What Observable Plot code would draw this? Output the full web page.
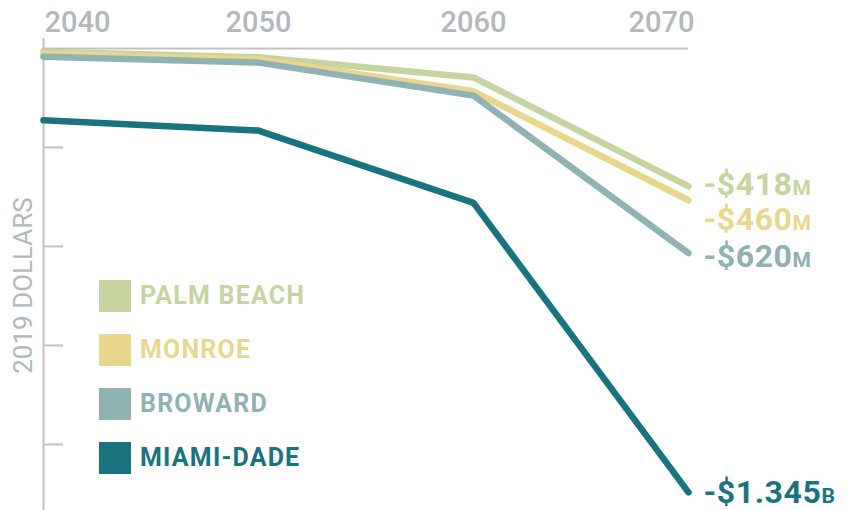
<!DOCTYPE html>
<html><head><meta charset="utf-8">
<script src="https://cdn.jsdelivr.net/npm/d3@7"></script>
<script src="https://cdn.jsdelivr.net/npm/@observablehq/plot@0.6"></script>
<style>
body{margin:0;background:#fff;font-family:Roboto, "Noto Sans", sans-serif;}
#wrap{position:relative;width:852px;height:510px;overflow:hidden;}
#wrap svg{display:block;}
.legend{position:absolute;left:99px;top:280px;}
.legend .row{display:flex;align-items:center;height:32px;margin-bottom:22px;}
.legend .sw{width:32px;height:32px;margin-right:9px;flex:none;}
.legend .lab{font-weight:700;font-size:25px;letter-spacing:1.2px;white-space:nowrap;line-height:32px;}
</style></head>
<body><div id="wrap"></div>
<script>
// ---- data (millions of 2019 dollars) ----
const years = [2040, 2050, 2060, 2070];
const counties = ["PALM BEACH", "MONROE", "BROWARD", "MIAMI-DADE"];
const palmBeach = [-10, -27, -88, -418];
const monroe = [-16, -33, -130, -460];
const broward = [-25, -43, -143, -620];
const miamiDade = [-218, -249, -468, -1345];
const yTicks = [-300, -600, -900, -1200];
const yLabel = "2019 DOLLARS";

// ---- style ----
const colors = ["#c6d4a0", "#e8d68c", "#8fb2b2", "#1a7480"];
const grey = "#c2c2c2";
const textGrey = "#b3b8bd";
const labelDy = [-2, 20, 4, 0];

const seriesValues = [palmBeach, monroe, broward, miamiDade];
const rows = [];
counties.forEach((c, i) => years.forEach((yr, j) => rows.push({county: c, year: yr, value: seriesValues[i][j]})));
const ends = counties.map((c, i) => ({county: c, year: years[years.length - 1], value: seriesValues[i][years.length - 1]}));

function fmtMain(v) {
  const a = Math.abs(v);
  return a >= 1000 ? "-$" + (a / 1000).toFixed(3) : "-$" + a;
}
function fmtUnit(v) { return Math.abs(v) >= 1000 ? "B" : "M"; }

const W = 852, H = 510, mL = 43, mR = 164, mT = 38, mB = 0;
const yDomain = [-1400, 30];

const tickStyle = {frameAnchor: "top", lineAnchor: "middle", dy: -16, fill: textGrey, fontSize: 29, fontWeight: 500, text: d => String(d)};

const marks = [
  Plot.ruleY([0], {x1: years[0], x2: years[years.length - 1], stroke: grey, strokeWidth: 2}),
  Plot.ruleX([years[0]], {y1: yDomain[0], y2: yDomain[1], stroke: grey, strokeWidth: 2}),
  Plot.tickY(yTicks, {y: d => d, stroke: grey, strokeWidth: 2, insetRight: W - mL - mR - 20}),
  Plot.text(years.slice(0, 1), {x: d => d, ...tickStyle, dx: 1, textAnchor: "start"}),
  Plot.text(years.slice(1, -1), {x: d => d, ...tickStyle, textAnchor: "middle"}),
  Plot.text(years.slice(-1), {x: d => d, ...tickStyle, dx: 6, textAnchor: "end"}),
  Plot.text([yLabel], {frameAnchor: "left", textAnchor: "middle", rotate: -90, dx: -20, dy: 11, fill: textGrey, fontSize: 26, fontWeight: 400, text: d => d}),
  ...counties.map((c, i) => Plot.line(rows.filter(r => r.county === c), {
    x: "year", y: "value", stroke: colors[i], strokeWidth: 6.5, strokeLinecap: "round", strokeLinejoin: "miter"
  })),
  ...ends.map((e, i) => Plot.text([e], {
    x: "year", y: "value", text: d => fmtMain(d.value), textAnchor: "start", dx: 15, dy: labelDy[i],
    fill: colors[i], fontSize: 32, fontWeight: 700, className: "endlabel"
  }))
];

const chart = Plot.plot({
  width: W, height: H,
  marginLeft: mL, marginRight: mR, marginTop: mT, marginBottom: mB,
  style: {fontFamily: "Roboto, sans-serif", background: "#fff"},
  x: {domain: [years[0], years[years.length - 1]], axis: null},
  y: {domain: yDomain, axis: null},
  marks
});

// small-caps unit suffix as a tspan
const endTexts = chart.querySelectorAll(".endlabel text");
endTexts.forEach((t, i) => {
  const v = ends[i].value;
  t.textContent = "";
  t.setAttribute("letter-spacing", "0.6");
  const a = document.createElementNS("http://www.w3.org/2000/svg", "tspan");
  a.textContent = fmtMain(v);
  const b = document.createElementNS("http://www.w3.org/2000/svg", "tspan");
  b.textContent = fmtUnit(v);
  b.setAttribute("font-size", "21");
  t.appendChild(a); t.appendChild(b);
});

const wrap = document.getElementById("wrap");
wrap.appendChild(chart);

const legend = document.createElement("div");
legend.className = "legend";
counties.forEach((c, i) => {
  const row = document.createElement("div");
  row.className = "row";
  const sw = document.createElement("div");
  sw.className = "sw"; sw.style.background = colors[i];
  const lab = document.createElement("div");
  lab.className = "lab"; lab.style.color = colors[i]; lab.textContent = c;
  row.appendChild(sw); row.appendChild(lab);
  legend.appendChild(row);
});
wrap.appendChild(legend);
</script>
</body></html>
